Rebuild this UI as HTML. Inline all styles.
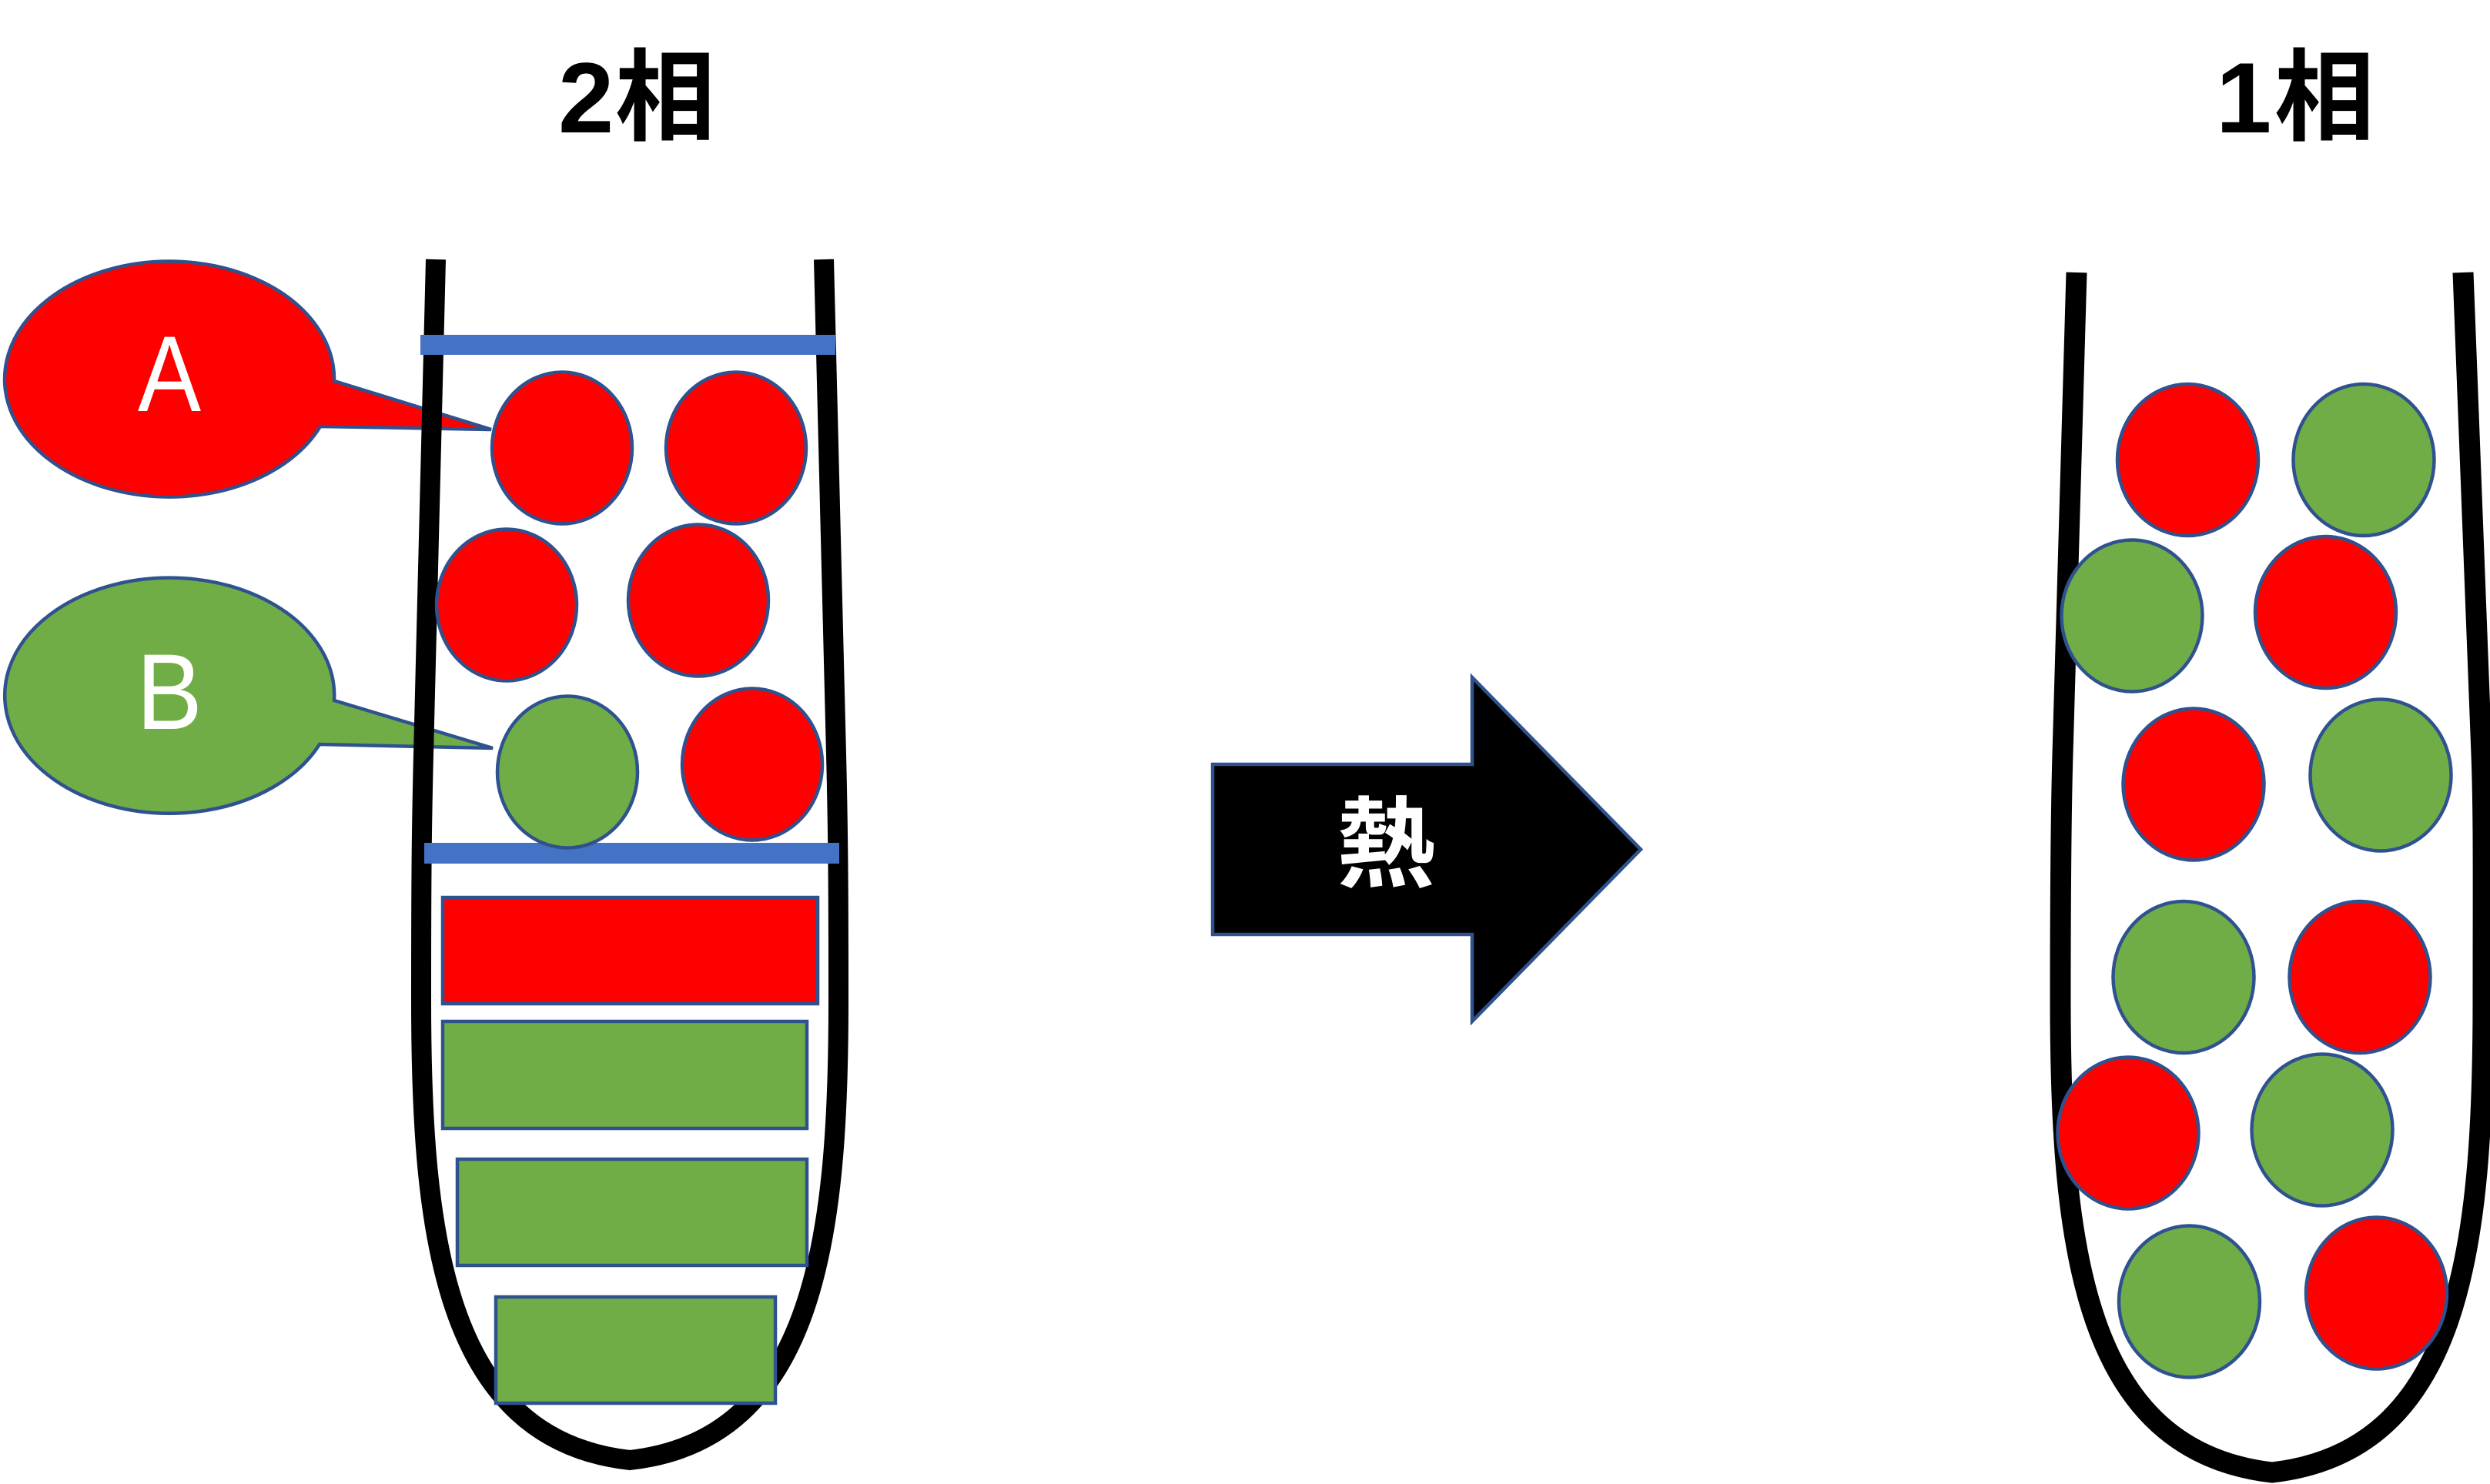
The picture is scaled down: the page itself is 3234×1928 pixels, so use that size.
<!DOCTYPE html>
<html>
<head>
<meta charset="utf-8">
<style>
  html, body { margin: 0; padding: 0; background: #ffffff; }
  body { width: 3234px; height: 1928px; overflow: hidden; }
  svg { display: block; }
</style>
</head>
<body>
<svg width="3234" height="1928" viewBox="0 0 3234 1928" xmlns="http://www.w3.org/2000/svg">
  <rect x="0" y="0" width="3234" height="1928" fill="#ffffff"/>

  <!-- Titles -->
  <text y="172" font-size="130" font-weight="bold" fill="#000" style="font-family:'Liberation Sans','Noto Sans CJK JP',sans-serif"><tspan x="725" style="font-family:'Liberation Sans',sans-serif">2</tspan><tspan x="799" style="font-family:'Noto Sans CJK JP',sans-serif">相</tspan></text>
  <text y="172" font-size="130" font-weight="bold" fill="#000" style="font-family:'Liberation Sans','Noto Sans CJK JP',sans-serif"><tspan x="2878" style="font-family:'Liberation Sans',sans-serif">1</tspan><tspan x="2954" style="font-family:'Noto Sans CJK JP',sans-serif">相</tspan></text>

  <!-- Callout A -->
  <path d="M 434 495 L 638 558 L 416 554 A 214 153 0 1 1 434 495 Z" fill="#FF0000" stroke="#2F528F" stroke-width="4.5" stroke-linejoin="miter"/>
  <text transform="translate(220,534) scale(0.88,1)" x="0" y="0" text-anchor="middle" font-size="140" fill="#ffffff" style="font-family:'Liberation Sans',sans-serif">A</text>

  <!-- Callout B -->
  <path d="M 434 910 L 640 972 L 415 967 A 214 153 0 1 1 434 910 Z" fill="#70AD47" stroke="#2F528F" stroke-width="4.5" stroke-linejoin="miter"/>
  <text transform="translate(220,947) scale(0.92,1)" x="0" y="0" text-anchor="middle" font-size="140" fill="#ffffff" style="font-family:'Liberation Sans',sans-serif">B</text>

  <!-- Left tube -->
  <path d="M 566 337 L 550 980 C 547.5 1080, 547 1150, 547 1300 C 547 1600, 575 1870, 818 1897 C 1061 1870, 1089 1600, 1089 1300 C 1089 1150, 1088.5 1080, 1086 980 L 1070 337"
        fill="none" stroke="#000" stroke-width="26" stroke-linecap="butt" stroke-linejoin="miter" stroke-miterlimit="10"/>

  <!-- Right tube -->
  <path d="M 2697 354 L 2679 980 C 2676.7 1060, 2676 1150, 2676 1300 C 2676 1620, 2706 1885, 2951 1913 C 3196 1885, 3225 1620, 3225 1300 C 3225 1150, 3226 1060, 3223 980 L 3199 354"
        fill="none" stroke="#000" stroke-width="27" stroke-linecap="butt" stroke-linejoin="miter" stroke-miterlimit="10"/>

  <!-- Blue bars -->
  <rect x="546" y="435" width="539" height="26" fill="#4472C4"/>
  <rect x="551" y="1095" width="539" height="27" fill="#4472C4"/>

  <!-- Left tube particles -->
  <g stroke="#2F528F" stroke-width="4.5">
    <ellipse cx="730" cy="582" rx="91" ry="98.5" fill="#FF0000"/>
    <ellipse cx="956" cy="582" rx="91" ry="98.5" fill="#FF0000"/>
    <ellipse cx="658" cy="786" rx="91" ry="98.5" fill="#FF0000"/>
    <ellipse cx="907" cy="780" rx="91" ry="98.5" fill="#FF0000"/>
    <ellipse cx="737" cy="1003" rx="91" ry="98.5" fill="#70AD47"/>
    <ellipse cx="977" cy="993" rx="91" ry="98.5" fill="#FF0000"/>
  </g>

  <!-- Left tube layers -->
  <g stroke="#2F528F" stroke-width="4.5">
    <rect x="575" y="1166" width="487" height="138" fill="#FF0000"/>
    <rect x="575" y="1327" width="473" height="139" fill="#70AD47"/>
    <rect x="594" y="1506" width="454" height="138" fill="#70AD47"/>
    <rect x="644" y="1685" width="363" height="138" fill="#70AD47"/>
  </g>

  <!-- Right tube particles -->
  <g stroke="#2F528F" stroke-width="4.5">
    <ellipse cx="2841.5" cy="597.5" rx="91.5" ry="98.5" fill="#FF0000"/>
    <ellipse cx="3070" cy="597.5" rx="91.5" ry="98.5" fill="#70AD47"/>
    <ellipse cx="2769" cy="800" rx="91.5" ry="98.5" fill="#70AD47"/>
    <ellipse cx="3020.5" cy="795.5" rx="91.5" ry="98.5" fill="#FF0000"/>
    <ellipse cx="2849" cy="1019" rx="91.5" ry="98.5" fill="#FF0000"/>
    <ellipse cx="3092" cy="1007" rx="91.5" ry="98.5" fill="#70AD47"/>
    <ellipse cx="2836" cy="1269.5" rx="91.5" ry="98.5" fill="#70AD47"/>
    <ellipse cx="3065" cy="1269.5" rx="91.5" ry="98.5" fill="#FF0000"/>
    <ellipse cx="2764" cy="1472" rx="91.5" ry="98.5" fill="#FF0000"/>
    <ellipse cx="3016" cy="1468" rx="91.5" ry="98.5" fill="#70AD47"/>
    <ellipse cx="2843.5" cy="1691" rx="91.5" ry="98.5" fill="#70AD47"/>
    <ellipse cx="3086.5" cy="1680" rx="91.5" ry="98.5" fill="#FF0000"/>
  </g>

  <!-- Arrow -->
  <polygon points="1575,993 1912,993 1912,880 2131,1103.5 1912,1327 1912,1214 1575,1214"
           fill="#000000" stroke="#2F528F" stroke-width="4.5" stroke-linejoin="miter"/>
  <text x="1800" y="1142" text-anchor="middle" font-size="128" font-weight="bold" fill="#ffffff" style="font-family:'Noto Sans CJK JP',sans-serif">熱</text>
</svg>
</body>
</html>
